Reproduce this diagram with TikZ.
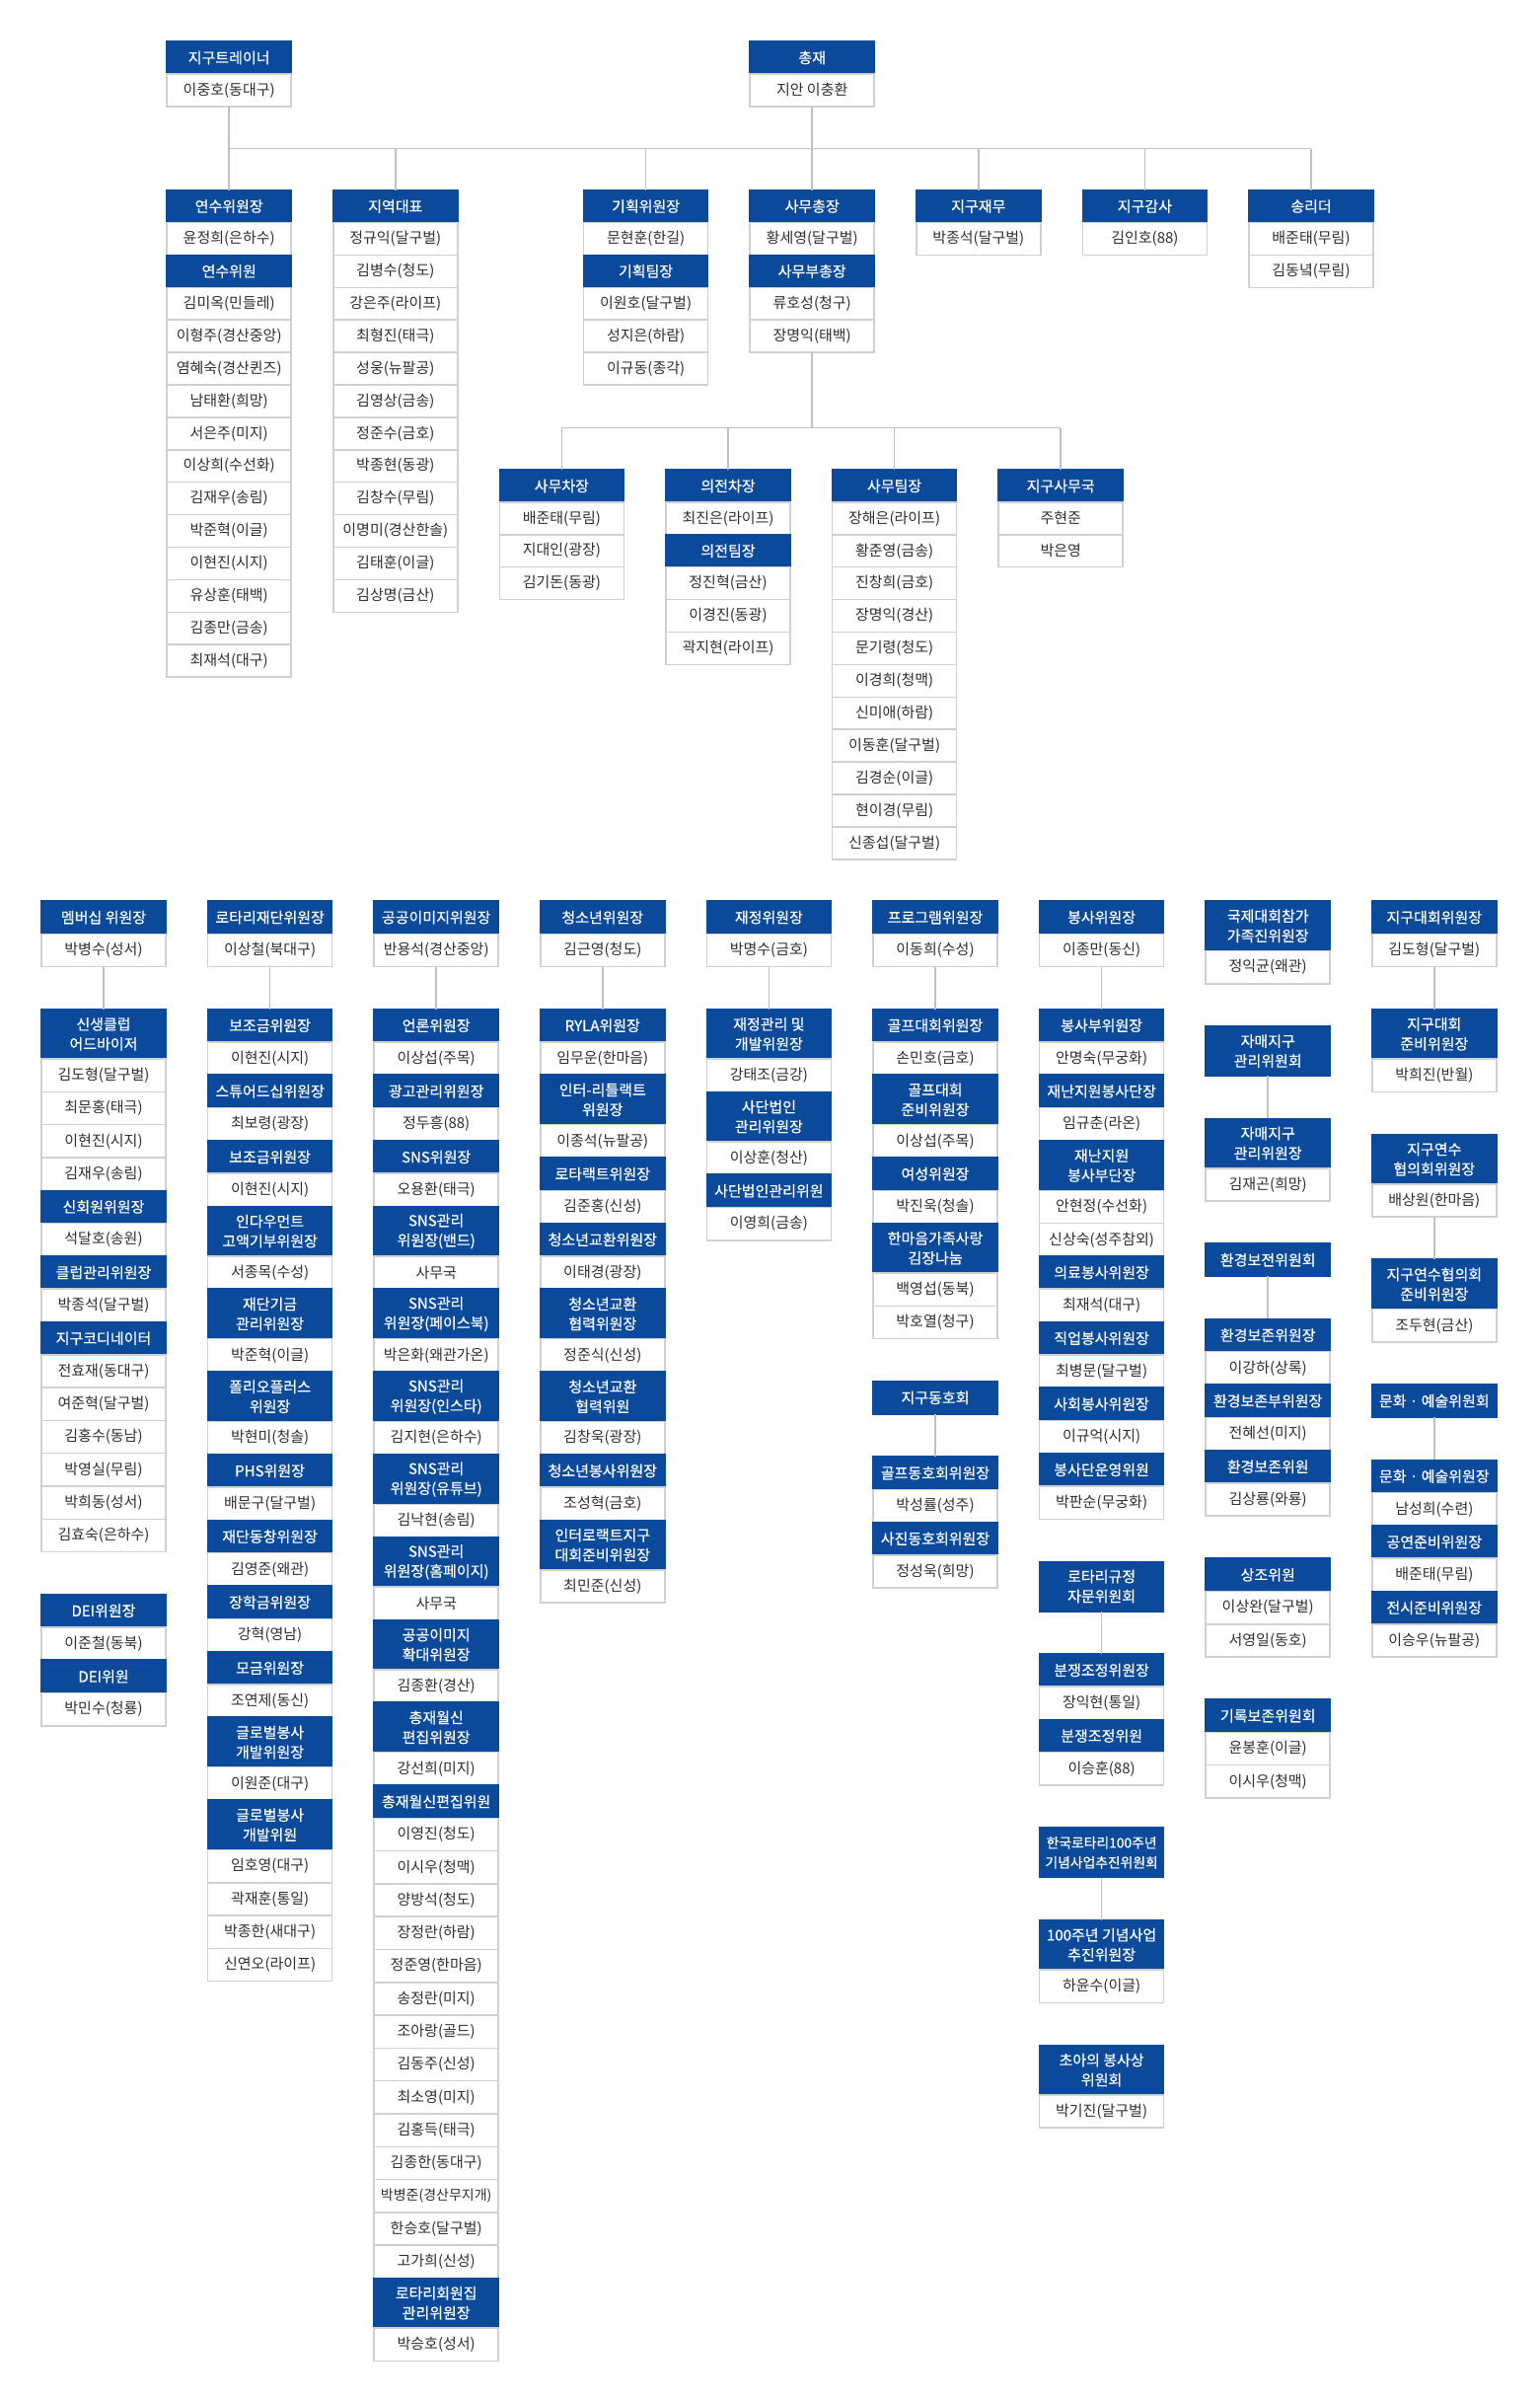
\documentclass[tikz,border=0pt]{standalone}
\usepackage{fontspec}
\setmainfont{Noto Sans CJK KR}
\newfontfamily\hdfont{Noto Sans CJK KR}[FakeBold=0.5]
\usepackage{tikz}
\usetikzlibrary{positioning}

\definecolor{rblue}{HTML}{0B4A9A}
\definecolor{cellgray}{HTML}{D0D0D0}
\definecolor{linegray}{HTML}{C0C0C0}
\definecolor{ink}{HTML}{2E2E2E}

\def\cellh{32.9pt}
% one column: name, x, y, first style, first text, rest (gap/style/text)
\newcommand\orgcol[6]{%
  \node[#4, anchor=north west] (#1-1) at (#2,#3) {#5};
  \foreach \gp/\st/\txt [count=\k from 2] in {#6} {%
    \pgfmathtruncatemacro\j{\k-1}%
    \if\gp n\def\dd{0pt}\else\def\dd{43pt}\fi
    \node[\st, below=\dd of #1-\j] (#1-\k) {\txt};
    \if\gp l\draw[conn] (#1-\j) -- (#1-\k);\fi
  }%
}

\begin{document}
\begin{tikzpicture}[x=1pt,y=-1pt,
  box/.style={minimum width=126pt,inner sep=0pt,outer sep=0pt,align=center,line width=1.5pt},
  hd/.style={box,fill=rblue,draw=rblue,text=white,minimum height=\cellh,
    font=\hdfont\fontsize{15}{20}\selectfont},
  hdd/.style={hd,minimum height=50.5pt},
  hdds/.style={hdd,font=\hdfont\fontsize{13.8}{20}\selectfont},
  cl/.style={box,fill=white,draw=cellgray,text=ink,minimum height=\cellh,
    font=\fontsize{15}{20}\selectfont},
  cls/.style={cl,font=\fontsize{14}{20}\selectfont},
  conn/.style={draw=linegray,line width=1.5pt},
]
  \useasboundingbox[fill=white] (0,0) rectangle (1560,2432);

  % top
  \orgcol{tr}{169.2}{42}{hd}{지구트레이너}{n/cl/이중호(동대구)}
  \orgcol{gv}{760.2}{42}{hd}{총재}{n/cl/지안 이충환}

  \orgcol{yk}{169.2}{192.6}{hd}{연수위원장}{n/cl/윤정희(은하수), n/hd/연수위원, n/cl/김미옥(민들레),
    n/cl/이형주(경산중앙), n/cl/염혜숙(경산퀸즈), n/cl/남태환(희망), n/cl/서은주(미지), n/cl/이상희(수선화),
    n/cl/김재우(송림), n/cl/박준혁(이글), n/cl/이현진(시지), n/cl/유상훈(태백), n/cl/김종만(금송), n/cl/최재석(대구)}
  \orgcol{jd}{337.8}{192.6}{hd}{지역대표}{n/cl/정규익(달구벌), n/cl/김병수(청도), n/cl/강은주(라이프),
    n/cl/최형진(태극), n/cl/성웅(뉴팔공), n/cl/김영상(금송), n/cl/정준수(금호), n/cl/박종현(동광),
    n/cl/김창수(무림), n/cl/이명미(경산한솔), n/cl/김태훈(이글), n/cl/김상명(금산)}
  \orgcol{gh}{591.6}{192.6}{hd}{기획위원장}{n/cl/문현훈(한길), n/hd/기획팀장, n/cl/이원호(달구벌),
    n/cl/성지은(하람), n/cl/이규동(종각)}
  \orgcol{sc}{760.2}{192.6}{hd}{사무총장}{n/cl/황세영(달구벌), n/hd/사무부총장, n/cl/류호성(청구), n/cl/장명익(태백)}
  \orgcol{jm}{928.8}{192.6}{hd}{지구재무}{n/cl/박종석(달구벌)}
  \orgcol{ga}{1097.4}{192.6}{hd}{지구감사}{n/cl/김인호(88)}
  \orgcol{sl}{1266}{192.6}{hd}{송리더}{n/cl/배준태(무림), n/cl/김동녘(무림)}

  \coordinate (bus1) at (0,150.6);
  \draw[conn] (tr-2) -- (yk-1);
  \draw[conn] (tr-2 |- bus1) -- (sl-1 |- bus1);
  \draw[conn] (gv-2) -- (sc-1);
  \foreach \n in {jd,gh,jm,ga,sl}
    \draw[conn] (\n-1 |- bus1) -- (\n-1);

  % middle
  \orgcol{sa}{506.4}{476}{hd}{사무차장}{n/cl/배준태(무림), n/cl/지대인(광장), n/cl/김기돈(동광)}
  \orgcol{uj}{675}{476}{hd}{의전차장}{n/cl/최진은(라이프), n/hd/의전팀장, n/cl/정진혁(금산),
    n/cl/이경진(동광), n/cl/곽지현(라이프)}
  \orgcol{st}{843.6}{476}{hd}{사무팀장}{n/cl/장해은(라이프), n/cl/황준영(금송), n/cl/진창희(금호),
    n/cl/장명익(경산), n/cl/문기령(청도), n/cl/이경희(청맥), n/cl/신미애(하람), n/cl/이동훈(달구벌),
    n/cl/김경순(이글), n/cl/현이경(무림), n/cl/신종섭(달구벌)}
  \orgcol{sg}{1012.2}{476}{hd}{지구사무국}{n/cl/주현준, n/cl/박은영}

  \coordinate (bus2) at (0,433.5);
  \draw[conn] (sc-5) -- (sc-5 |- bus2);
  \draw[conn] (sa-1 |- bus2) -- (sg-1 |- bus2);
  \foreach \n in {sa,uj,st,sg}
    \draw[conn] (\n-1 |- bus2) -- (\n-1);

  % committees
  \def\cellh{33.3pt}
  \orgcol{mb}{42}{913}{hd}{멤버십 위원장}{n/cl/박병수(성서), l/hdd/신생클럽\\어드바이저,
    n/cl/김도형(달구벌), n/cl/최문홍(태극), n/cl/이현진(시지), n/cl/김재우(송림), n/hd/신회원위원장,
    n/cl/석달호(송원), n/hd/클럽관리위원장, n/cl/박종석(달구벌), n/hd/지구코디네이터, n/cl/전효재(동대구),
    n/cl/여준혁(달구벌), n/cl/김홍수(동남), n/cl/박영실(무림), n/cl/박희동(성서), n/cl/김효숙(은하수),
    g/hd/DEI위원장, n/cl/이준철(동북), n/hd/DEI위원, n/cl/박민수(청룡)}
  \orgcol{rf}{210.6}{913}{hd}{로타리재단위원장}{n/cl/이상철(북대구), l/hd/보조금위원장, n/cl/이현진(시지),
    n/hd/스튜어드십위원장, n/cl/최보령(광장), n/hd/보조금위원장, n/cl/이현진(시지),
    n/hdd/인다우먼트\\고액기부위원장, n/cl/서종목(수성), n/hdd/재단기금\\관리위원장, n/cl/박준혁(이글),
    n/hdd/폴리오플러스\\위원장, n/cl/박현미(청솔), n/hd/PHS위원장, n/cl/배문구(달구벌),
    n/hd/재단동창위원장, n/cl/김영준(왜관), n/hd/장학금위원장, n/cl/강혁(영남), n/hd/모금위원장,
    n/cl/조연제(동신), n/hdd/글로벌봉사\\개발위원장, n/cl/이원준(대구), n/hdd/글로벌봉사\\개발위원,
    n/cl/임호영(대구), n/cl/곽재훈(통일), n/cl/박종한(새대구), n/cl/신연오(라이프)}
  \orgcol{pi}{379.2}{913}{hd}{공공이미지위원장}{n/cl/반용석(경산중앙), l/hd/언론위원장, n/cl/이상섭(주목),
    n/hd/광고관리위원장, n/cl/정두흥(88), n/hd/SNS위원장, n/cl/오용환(태극),
    n/hdd/SNS관리\\위원장(밴드), n/cl/사무국, n/hdd/SNS관리\\위원장(페이스북), n/cl/박은화(왜관가온),
    n/hdd/SNS관리\\위원장(인스타), n/cl/김지현(은하수), n/hdd/SNS관리\\위원장(유튜브), n/cl/김낙현(송림),
    n/hdd/SNS관리\\위원장(홈페이지), n/cl/사무국, n/hdd/공공이미지\\확대위원장, n/cl/김종환(경산),
    n/hdd/총재월신\\편집위원장, n/cl/강선희(미지), n/hd/총재월신편집위원, n/cl/이영진(청도),
    n/cl/이시우(청맥), n/cl/양방석(청도), n/cl/장정란(하람), n/cl/정준영(한마음), n/cl/송정란(미지),
    n/cl/조아랑(골드), n/cl/김동주(신성), n/cl/최소영(미지), n/cl/김홍득(태극), n/cl/김종한(동대구),
    n/cls/박병준(경산무지개), n/cl/한승호(달구벌), n/cl/고가희(신성), n/hdd/로타리회원집\\관리위원장,
    n/cl/박승호(성서)}
  \orgcol{yo}{547.8}{913}{hd}{청소년위원장}{n/cl/김근영(청도), l/hd/RYLA위원장, n/cl/임무운(한마음),
    n/hdd/인터-리틀랙트\\위원장, n/cl/이종석(뉴팔공), n/hd/로타랙트위원장, n/cl/김준홍(신성),
    n/hd/청소년교환위원장, n/cl/이태경(광장), n/hdd/청소년교환\\협력위원장, n/cl/정준식(신성),
    n/hdd/청소년교환\\협력위원, n/cl/김창욱(광장), n/hd/청소년봉사위원장, n/cl/조성혁(금호),
    n/hdd/인터로랙트지구\\대회준비위원장, n/cl/최민준(신성)}
  \orgcol{fi}{716.4}{913}{hd}{재정위원장}{n/cl/박명수(금호), l/hdd/재정관리 및\\개발위원장,
    n/cl/강태조(금강), n/hdd/사단법인\\관리위원장, n/cl/이상훈(청산), n/hd/사단법인관리위원,
    n/cl/이영희(금송)}
  \orgcol{pg}{885}{913}{hd}{프로그램위원장}{n/cl/이동희(수성), l/hd/골프대회위원장, n/cl/손민호(금호),
    n/hdd/골프대회\\준비위원장, n/cl/이상섭(주목), n/hd/여성위원장, n/cl/박진욱(청솔),
    n/hdd/한마음가족사랑\\김장나눔, n/cl/백영섭(동북), n/cl/박호열(청구), g/hd/지구동호회,
    l/hd/골프동호회위원장, n/cl/박성률(성주), n/hd/사진동호회위원장, n/cl/정성욱(희망)}
  \orgcol{sv}{1053.6}{913}{hd}{봉사위원장}{n/cl/이종만(동신), l/hd/봉사부위원장, n/cl/안명숙(무궁화),
    n/hd/재난지원봉사단장, n/cl/임규춘(라온), n/hdd/재난지원\\봉사부단장, n/cl/안현정(수선화),
    n/cl/신상숙(성주참외), n/hd/의료봉사위원장, n/cl/최재석(대구), n/hd/직업봉사위원장,
    n/cl/최병문(달구벌), n/hd/사회봉사위원장, n/cl/이규억(시지), n/hd/봉사단운영위원,
    n/cl/박판순(무궁화), g/hdd/로타리규정\\자문위원회, l/hd/분쟁조정위원장, n/cl/장익현(통일),
    n/hd/분쟁조정위원, n/cl/이승훈(88), g/hdds/한국로타리100주년\\기념사업추진위원회,
    l/hdd/100주년 기념사업\\추진위원장, n/cl/하윤수(이글), g/hdd/초아의 봉사상\\위원회,
    n/cl/박기진(달구벌)}
  \orgcol{ic}{1222.2}{913}{hdd}{국제대회참가\\가족진위원장}{n/cl/정익균(왜관), g/hdd/자매지구\\관리위원회,
    l/hdd/자매지구\\관리위원장, n/cl/김재곤(희망), g/hd/환경보전위원회, l/hd/환경보존위원장,
    n/cl/이강하(상록), n/hd/환경보존부위원장, n/cl/전혜선(미지), n/hd/환경보존위원, n/cl/김상룡(와룡),
    g/hd/상조위원, n/cl/이상완(달구벌), n/cl/서영일(동호), g/hd/기록보존위원회, n/cl/윤봉훈(이글),
    n/cl/이시우(청맥)}
  \orgcol{dc}{1390.8}{913}{hd}{지구대회위원장}{n/cl/김도형(달구벌), l/hdd/지구대회\\준비위원장,
    n/cl/박희진(반월), g/hdd/지구연수\\협의회위원장, n/cl/배상원(한마음), l/hdd/지구연수협의회\\준비위원장,
    n/cl/조두현(금산), g/hd/문화 · 예술위원회, l/hd/문화 · 예술위원장, n/cl/남성희(수련),
    n/hd/공연준비위원장, n/cl/배준태(무림), n/hd/전시준비위원장, n/cl/이승우(뉴팔공)}
\end{tikzpicture}
\end{document}
